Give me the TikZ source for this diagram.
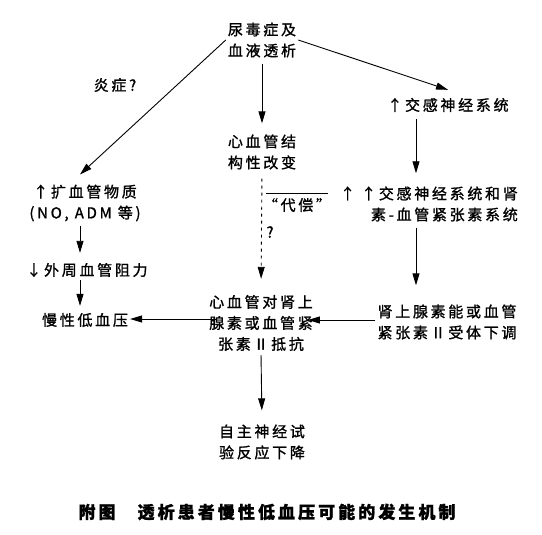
\documentclass[tikz,border=0pt]{standalone}
\usepackage{fontspec}
\setmainfont{Noto Sans CJK SC}[LetterSpace=18, FakeBold=1.2]
\usetikzlibrary{arrows.meta}
\begin{document}
\begin{tikzpicture}[x=1pt,y=-1pt,
  every node/.style={font=\fontsize{15}{21}\selectfont, inner sep=2pt, align=center},
  arr/.style={draw, line width=0.9pt, -{Triangle[length=12pt,width=7pt]}},
  darr/.style={arr, dash pattern=on 3pt off 4pt},
  ln/.style={draw, line width=0.8pt}]
\useasboundingbox[fill=white] (0,0) rectangle (542,535);
\node (top) at (262,40) {尿毒症及\\血液透析};
\node (cv) at (262,152) {心血管结\\构性改变};
\node (symp) at (448,105) {↑交感神经系统};
\node[align=right, anchor=east] (raas) at (520,204) {↑ ↑交感神经系统和肾\\素-血管紧张素系统};
\node (down) at (447,322) {肾上腺素能或血管\\紧张素Ⅱ受体下调};
\node (center) at (261,323) {心血管对肾上\\腺素或血管紧\\张素Ⅱ抵抗};
\node (auto) at (262,442) {自主神经试\\验反应下降};
\node (vaso) at (85,203) {↑扩血管物质\\(NO, ADM 等)};
\node (resist) at (87,270) {↓外周血管阻力};
\node (hypo) at (85,320) {慢性低血压};
\node (infl) at (115,85) {炎症?};
\node (comp) at (297,205) {“代偿”};
\node (q) at (270,232) {?};
\node[font=\bfseries\fontsize{17}{20}\selectfont] (cap) at (267,512) {附图\hspace{1.3em}透析患者慢性低血压可能的发生机制};
\coordinate (rc) at (416,0);
\coordinate (lc) at (80,0);
% connectors
\draw[arr] (top.west) -- ([xshift=-5pt,yshift=8pt]vaso.north);
\draw[arr] (top.east) -- ([yshift=6pt]symp.north);
\draw[arr, shorten >=9pt, shorten <=4pt] (top.south) -- (cv.north);
\draw[darr, shorten >=14pt, shorten <=7pt] (cv.south) -- (center.north);
\draw[arr, shorten <=5pt, shorten >=11pt] (symp.south -| rc) -- (raas.north -| rc);
\draw[arr, shorten <=4pt, shorten >=17pt] (raas.south -| rc) -- (down.north -| rc);
\draw[arr, shorten >=-7pt] ([yshift=2pt]down.west) -- ([yshift=2pt]center.east |- down.west);
\draw[arr, shorten <=-9pt] ([yshift=4pt]center.west) -- ([yshift=4pt]hypo.east |- center.west);
\draw[arr, shorten <=2pt, shorten >=12pt] (center.south) -- (auto.north);
\draw[arr, shorten <=2pt, shorten >=8pt] (vaso.south -| lc) -- (resist.north -| lc);
\draw[arr, shorten <=1pt, shorten >=5pt] (resist.south -| lc) -- (hypo.north -| lc);
\draw[ln, shorten <=5pt, shorten >=5pt] ([yshift=2pt]comp.north west) -- ([yshift=2pt]comp.north east);
\end{tikzpicture}
\end{document}
